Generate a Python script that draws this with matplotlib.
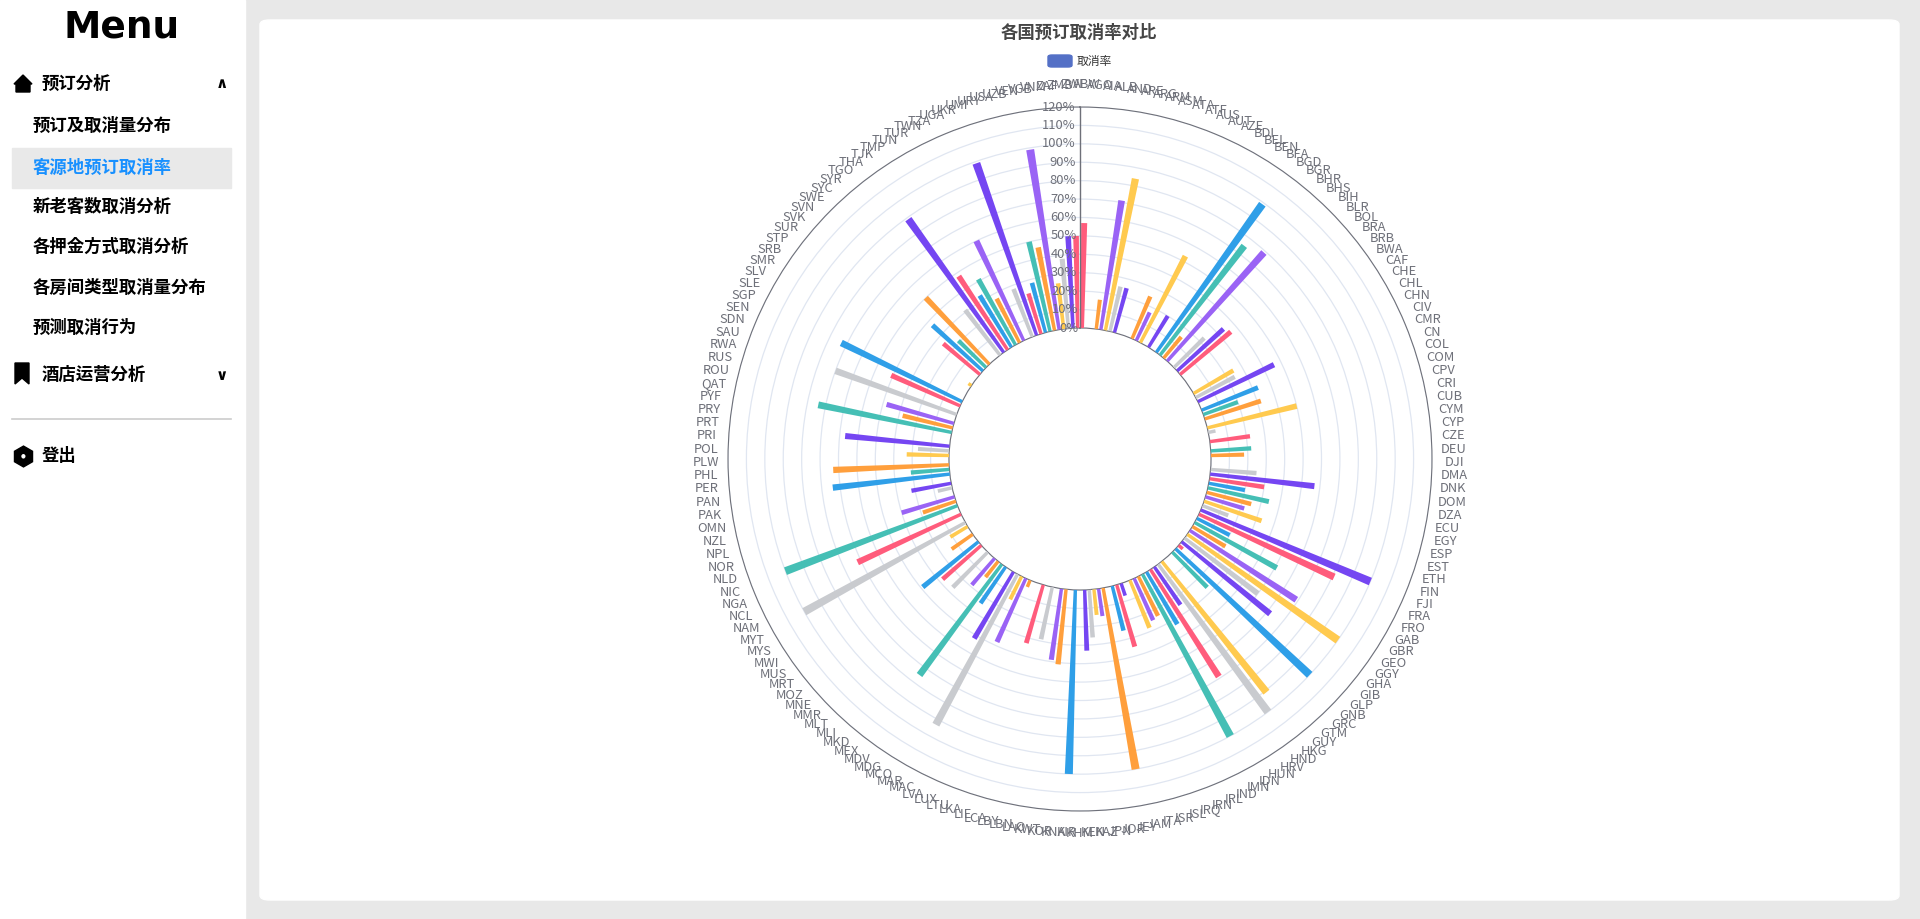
import numpy as np
import matplotlib
matplotlib.use("Agg")
import matplotlib.pyplot as plt
from matplotlib import font_manager
from matplotlib.patches import FancyBboxPatch, Rectangle, Polygon

cjk = [f.name for f in font_manager.fontManager.ttflist if "CJK" in f.name]
cjk_name = "Noto Sans CJK SC" if "Noto Sans CJK SC" in cjk else (cjk[0] if cjk else "DejaVu Sans")
plt.rcParams["font.family"] = "sans-serif"
plt.rcParams["font.sans-serif"] = [cjk_name, "DejaVu Sans"]

W, H = 1920, 919

countries = [
    "ABW", "AGO", "AIA", "ALB", "AND", "ARE", "ARG", "ARM", "ASM", "ATA", "ATF", "AUS", "AUT", "AZE",
    "BDI", "BEL", "BEN", "BFA", "BGD", "BGR", "BHR", "BHS", "BIH", "BLR", "BOL", "BRA", "BRB", "BWA",
    "CAF", "CHE", "CHL", "CHN", "CIV", "CMR", "CN", "COL", "COM", "CPV", "CRI", "CUB", "CYM", "CYP", "CZE",
    "DEU", "DJI", "DMA", "DNK", "DOM", "DZA", "ECU", "EGY", "ESP", "EST", "ETH",
    "FIN", "FJI", "FRA", "FRO", "GAB", "GBR", "GEO", "GGY", "GHA", "GIB", "GLP", "GNB", "GRC", "GTM", "GUY",
    "HKG", "HND", "HRV", "HUN", "IDN", "IMN", "IND", "IRL", "IRN", "IRQ", "ISL", "ISR", "ITA",
    "JAM", "JEY", "JOR", "JPN", "KAZ", "KEN", "KHM", "KIR", "KNA", "KOR", "KWT",
    "LAO", "LBN", "LBY", "LCA", "LIE", "LKA", "LTU", "LUX", "LVA",
    "MAC", "MAR", "MCO", "MDG", "MDV", "MEX", "MKD", "MLI", "MLT", "MMR", "MNE", "MOZ", "MRT", "MUS",
    "MWI", "MYS", "MYT", "NAM", "NCL", "NGA", "NIC", "NLD", "NOR", "NPL", "NZL", "OMN",
    "PAK", "PAN", "PER", "PHL", "PLW", "POL", "PRI", "PRT", "PRY", "PYF", "QAT", "ROU", "RUS", "RWA",
    "SAU", "SDN", "SEN", "SGP", "SLE", "SLV", "SMR", "SRB", "STP", "SUR", "SVK", "SVN", "SWE", "SYC", "SYR",
    "TGO", "THA", "TJK", "TMP", "TUN", "TUR", "TWN", "TZA", "UGA", "UKR", "UMI", "URY", "USA", "UZB",
    "VEN", "VGB", "VNM", "ZAF", "ZMB", "ZWE",
]

# cancellation rate, %
cancel_rate = [
    57, 0, 0, 16, 71, 84, 25, 25,
    0, 0, 0, 25, 17, 53, 0, 20,
    0, 99, 75, 15, 79, 0, 23, 34,
    36, 0, 0, 0, 0, 25, 24, 46,
    0, 33, 20, 32, 0, 50, 4, 0,
    22, 0, 22, 18, 0, 0, 25, 57,
    30, 20, 34, 25, 22, 33, 15, 100,
    81, 20, 51, 21, 69, 100, 50, 62,
    3, 100, 27, 0, 0, 91, 100, 25,
    69, 33, 100, 24, 25, 28, 0, 7,
    35, 25, 0, 100, 15, 14, 26, 33,
    0, 100, 0, 41, 39, 0, 29, 0,
    33, 0, 0, 4, 38, 14, 93, 42,
    0, 24, 75, 11, 19, 0, 27, 0,
    28, 39, 0, 14, 0, 11, 100, 0,
    62, 0, 100, 19, 30, 0, 8, 22,
    0, 64, 21, 63, 0, 23, 17, 57,
    0, 0, 74, 28, 38, 0, 70, 0,
    41, 73, 0, 0, 0, 2, 0, 0,
    26, 37, 21, 50, 0, 0, 31, 89,
    48, 33, 41, 27, 60, 0, 28, 99,
    23, 28, 50, 46, 99, 25, 38, 50,
    50,
]

rad_ticks = list(range(0, 130, 10))

palette = ["#ff5c7c", "#2f9fe8", "#45bfb5", "#ff9f3c", "#9a63f5", "#ffca4f", "#c9cbcf", "#7546f2"]

menu_items = ["预订及取消量分布", "客源地预订取消率", "新老客数取消分析",
              "各押金方式取消分析", "各房间类型取消量分布", "预测取消行为"]


def fx(x):
    return x / W


def fy(y):
    return 1 - y / H


fig = plt.figure(figsize=(W / 100, H / 100), dpi=100)
fig.patch.set_facecolor("#e8e8e8")

# sidebar
fig.patches.append(Rectangle((0, 0), fx(245), 1, transform=fig.transFigure, color="white", zorder=-2))
fig.text(fx(122), fy(28), "Menu", fontsize=27, ha="center", va="center", fontweight="bold",
         family="DejaVu Sans")
fig.patches.append(Polygon([(fx(14), fy(84)), (fx(23), fy(75)), (fx(32), fy(84)), (fx(30), fy(84)),
                            (fx(30), fy(92)), (fx(16), fy(92)), (fx(16), fy(84))],
                           transform=fig.transFigure, color="black"))
fig.text(fx(42), fy(84), "预订分析", fontsize=12.5, fontweight="bold", va="center")
fig.text(fx(222), fy(83), "∧", fontsize=11, ha="center", va="center", family="DejaVu Sans",
         fontweight="bold")
fig.patches.append(Rectangle((fx(12), fy(188)), fx(219), 40 / H, transform=fig.transFigure,
                             color="#e9e9e9", zorder=-1))
for k, item in enumerate(menu_items):
    y = [126, 168, 207, 247, 288, 328][k]
    fig.text(fx(33), fy(y), item, fontsize=12.5, fontweight="bold", va="center",
             color="#1890ff" if k == 1 else "black")
fig.patches.append(Polygon([(fx(15), fy(363)), (fx(29), fy(363)), (fx(29), fy(384)),
                            (fx(22), fy(378)), (fx(15), fy(384))],
                           transform=fig.transFigure, color="black"))
fig.text(fx(42), fy(375), "酒店运营分析", fontsize=12.5, fontweight="bold", va="center")
fig.text(fx(222), fy(375), "∨", fontsize=11, ha="center", va="center", family="DejaVu Sans",
         fontweight="bold")
fig.lines.append(plt.Line2D([fx(12), fx(231)], [fy(419), fy(419)], transform=fig.transFigure,
                            color="#cccccc", lw=1.2))
fig.lines.append(plt.Line2D([fx(23)], [fy(456)], transform=fig.transFigure, marker="h",
                            markersize=15, color="black"))
fig.text(fx(23), fy(456), "●", fontsize=4, color="white", ha="center", va="center", family="DejaVu Sans")
fig.text(fx(42), fy(456), "登出", fontsize=12.5, fontweight="bold", va="center")

# card
fig.patches.append(FancyBboxPatch((fx(260), fy(900)), fx(1639), 880 / H, transform=fig.transFigure,
                                  boxstyle="round,pad=0,rounding_size=0.005", color="white", zorder=-2))
fig.text(fx(1079), fy(33), "各国预订取消率对比", fontsize=12.5, fontweight="bold", ha="center",
         va="center", color="#464646")
fig.patches.append(FancyBboxPatch((fx(1048), fy(67)), fx(24), 12 / H, transform=fig.transFigure,
                                  boxstyle="round,pad=0,rounding_size=0.002", color="#5470c6"))
fig.text(fx(1077), fy(61), "取消率", fontsize=8.5, va="center", color="#333333")

# polar chart
cx, cy, R, r0 = 1080, 459, 352, 131
ax = fig.add_axes([fx(cx - R), fy(cy + R), 2 * R / W, 2 * R / H], projection="polar")
ax.patch.set_alpha(0)
N = len(countries)
vals = cancel_rate[:N - 1] + cancel_rate[-1:]
theta = (np.arange(N) + 0.5) * 2 * np.pi / N
ax.set_theta_zero_location("N")
ax.set_theta_direction(-1)
ax.set_ylim(0, 120)
ax.set_rorigin(-120 * r0 / (R - r0))
bar_colors = [palette[i % len(palette)] for i in range(N)]
ax.bar(theta, vals, width=2 * np.pi / N * 0.72, color=bar_colors, zorder=3)

ax.set_xticks(theta)
ax.set_xticklabels(countries, fontsize=9.3, color="#6e7079")
ax.tick_params(axis="x", pad=4, direction="out", length=5, width=0.8, color="#6e7079")
ax.xaxis.grid(False)
ax.set_yticks(rad_ticks)
ax.set_yticklabels([])
ax.yaxis.grid(True, color="#e0e6f1", lw=0.9)
ax.spines["polar"].set_color("#6e7079")
ax.spines["inner"].set_color("#6e7079")
ax.plot([0, 0], [0, 120], color="#6e7079", lw=1, zorder=4)
for t in rad_ticks:
    ax.text(-0.014, t, f"{t}%", ha="right", va="center", fontsize=9.3, color="#6e7079", zorder=5)

fig.savefig("out.png", dpi=100)
